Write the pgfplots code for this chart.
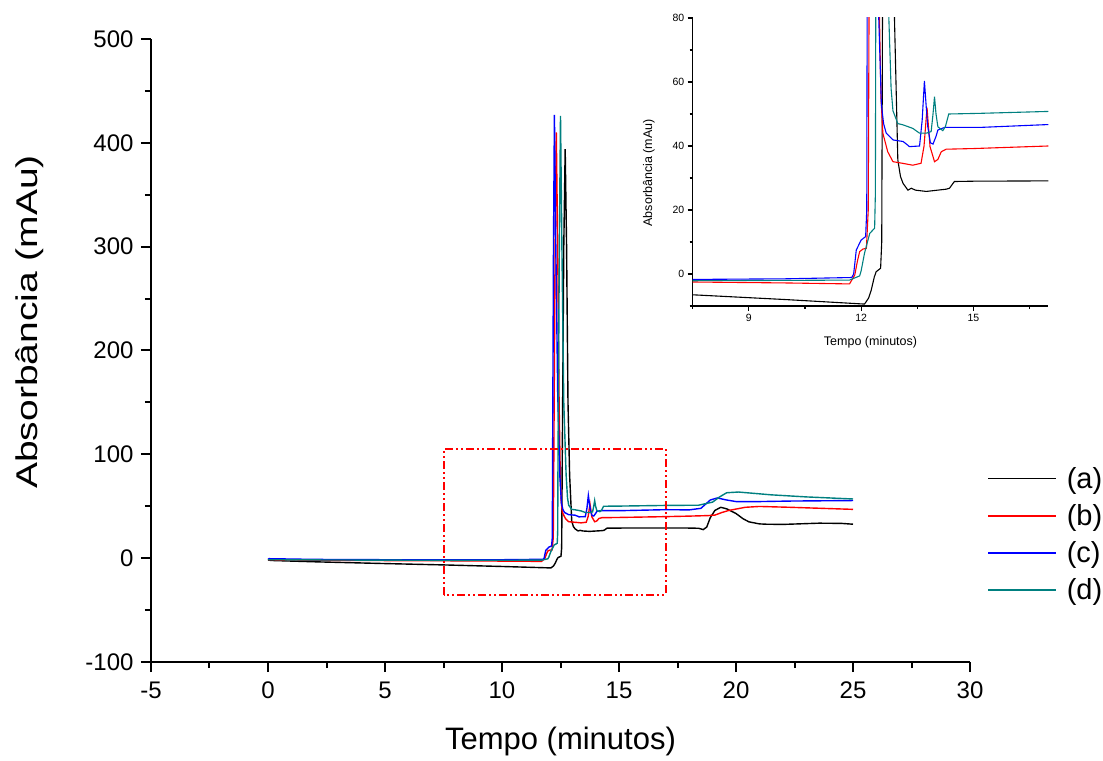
\documentclass[border=0pt]{standalone}
\usepackage{pgfplots}
\pgfplotsset{compat=1.18}
\usepackage{fontspec}
\setmainfont{Liberation Sans}
\newfontfamily\ylabfont[FakeStretch=1.3]{Liberation Sans}
\definecolor{cA}{RGB}{0,0,0}
\definecolor{cB}{RGB}{255,0,0}
\definecolor{cC}{RGB}{0,0,255}
\definecolor{cD}{RGB}{0,128,128}

\pgfplotstableread{
x y
0 -2
0.05 -1.5
0.1 -2.2
2 -3.5
5 -5.2
7.5 -6.5
10 -8
12.09 -9.4
12.2 -7.5
12.27 -5
12.35 -1
12.4 0.7
12.52 1.8
12.55 10
12.57 80
12.64 300
12.7 394
12.76 300
12.82 150
12.89 80
12.98 35.6
13.05 30.5
13.12 28.3
13.25 26.2
13.34 26.8
13.45 26.2
13.74 25.8
14.27 26.5
14.36 26.8
14.49 28.9
15 29
17 29.1
18 29
18.4 28.8
18.6 27.5
18.75 30
18.9 39
19.1 46
19.35 49
19.6 47.5
20 43
20.3 38
20.55 35
21 33
21.3 32.7
22 32.5
23.55 33.7
24.5 33.5
25 32.7
}\dataA

\pgfplotstableread{
x y
0 -1.5
2 -2
5 -2.3
7.5 -2.5
10 -2.8
11.69 -3.1
11.83 -0.3
11.9 4
11.96 7
12.05 7.8
12.14 8
12.19 20
12.21 80
12.27 300
12.32 410
12.38 300
12.44 150
12.49 80
12.53 55
12.58 44
12.71 38.2
12.85 35.1
13.1 34.6
13.38 34
13.6 34.6
13.68 40
13.76 52
13.84 39.8
13.96 35.1
14.05 35.8
14.14 38.2
14.27 39
15 39.2
17 40
18 40.5
18.8 41
19.1 41.5
19.4 44
19.7 46
20.4 49
21 49.8
22.3 49
25 47
}\dataB

\pgfplotstableread{
x y
0 -1
0.05 -0.5
2 -1.2
5 -1.5
7.5 -1.7
10 -1.5
11.75 -1.1
11.8 0
11.87 7.5
12.0 10.6
12.12 11.7
12.15 20
12.16 80
12.2 300
12.24 427
12.3 300
12.38 160
12.47 80
12.54 53
12.6 47
12.67 44
12.85 41.9
13.12 41.4
13.22 40.5
13.29 39.8
13.56 40
13.63 48
13.69 60.3
13.74 52
13.78 46
13.85 41
13.92 40.6
14.0 43
14.05 45
14.23 45.8
15.16 45.8
17 46.7
18 46.5
18.5 48
18.9 56
19.2 58
19.6 56
20 54.5
21 54.5
22.3 55
25 55.5
}\dataC

\pgfplotstableread{
x y
0 -1.5
2 -1.7
5 -1.9
7.5 -2.1
10 -2
11.69 -1.9
11.96 -0.6
12.0 1
12.09 6.5
12.23 12.7
12.36 14.3
12.38 25
12.39 80
12.45 300
12.5 426
12.56 300
12.64 150
12.74 80
12.8 58
12.85 51
12.98 47
13.12 46.6
13.38 45.5
13.56 44
13.74 44
13.87 44.5
13.92 50
13.96 55.4
14.0 50
14.05 46
14.18 44.8
14.25 46
14.34 50
15.16 50.2
17 50.8
18.4 51
19 54
19.3 59
19.6 63
20.1 63.7
21.5 61
23 59
25 57
}\dataD

\begin{document}
\begin{tikzpicture}
\path[use as bounding box] (-151bp,-99bp) rectangle (952bp,662bp);
\begin{axis}[
  at={(0bp,0bp)}, anchor=south west,
  scale only axis, width=819bp, height=623bp,
  xmin=-5, xmax=30, ymin=-100, ymax=500,
  axis lines*=left,
  axis line style={line width=2bp},
  every tick/.style={line width=2bp, black},
  tick align=outside,
  major tick length=10bp, minor tick length=6bp,
  xtick={-5,0,5,10,15,20,25,30},
  xticklabels={-5,0,5,10,15,20,25,30},
  minor xtick={-2.5,2.5,7.5,12.5,17.5,22.5,27.5},
  ytick={-100,0,100,200,300,400,500},
  yticklabels={-100,0,100,200,300,400,500},
  minor ytick={-50,50,150,250,350,450},
  tick label style={font=\fontsize{24bp}{28bp}\selectfont},
  xticklabel style={yshift=-6bp},
  yticklabel style={xshift=-4bp},
  xlabel={Tempo (minutos)},
  ylabel={\ylabfont Absorbância (mAu)},
  xlabel style={font=\fontsize{31bp}{36bp}\selectfont, at={(axis description cs:0.5,-0.128)}, anchor=center},
  ylabel style={font=\fontsize{30bp}{36bp}\selectfont, at={(axis description cs:-0.1477,0.546)}, anchor=center},
  legend style={at={(axis description cs:1.0208,0.316)}, anchor=north west,
    draw=none, fill=none, font=\fontsize{29bp}{34bp}\selectfont,
    row sep=10.7bp, column sep=8bp, inner sep=0pt, cells={anchor=west}},
  legend image code/.code={\draw[#1, line width=1.6bp] (0bp,0bp) -- (68bp,0bp);},
  clip=false,
]
\addplot[cA, line width=1.4bp] table {\dataA};
\addplot[cB, line width=1.4bp] table {\dataB};
\addplot[cC, line width=1.4bp] table {\dataC};
\addplot[cD, line width=1.4bp] table {\dataD};
\legend{(a),(b),(c),(d)}
\draw[cB, line width=2bp, dash pattern=on 8bp off 3bp on 2bp off 3bp on 2bp off 3bp]
  (axis cs:7.5,-35) rectangle (axis cs:17,105);
\end{axis}
\begin{axis}[
  at={(541.7bp,356bp)}, anchor=south west,
  scale only axis, width=355.6bp, height=288bp,
  xmin=7.5, xmax=17, ymin=-10, ymax=80,
  axis lines*=left,
  axis line style={line width=1.2bp},
  every tick/.style={line width=1.2bp, black},
  tick align=outside,
  major tick length=5bp, minor tick length=3bp,
  xtick={9,12,15}, xticklabels={9,12,15},
  minor xtick={7.5,10.5,13.5,16.5},
  ytick={0,20,40,60,80}, yticklabels={0,20,40,60,80},
  minor ytick={-10,10,30,50,70},
  tick label style={font=\fontsize{10.5bp}{12bp}\selectfont},
  xlabel={Tempo (minutos)},
  ylabel={Absorbância (mAu)},
  label style={font=\fontsize{12.5bp}{15bp}\selectfont},
  xlabel style={at={(axis description cs:0.5,-0.125)}, anchor=center},
  ylabel style={at={(axis description cs:-0.123,0.462)}, anchor=center},
]
\addplot[cA, line width=1.1bp] table {\dataA};
\addplot[cB, line width=1.1bp] table {\dataB};
\addplot[cC, line width=1.1bp] table {\dataC};
\addplot[cD, line width=1.1bp] table {\dataD};
\end{axis}
\end{tikzpicture}
\end{document}
